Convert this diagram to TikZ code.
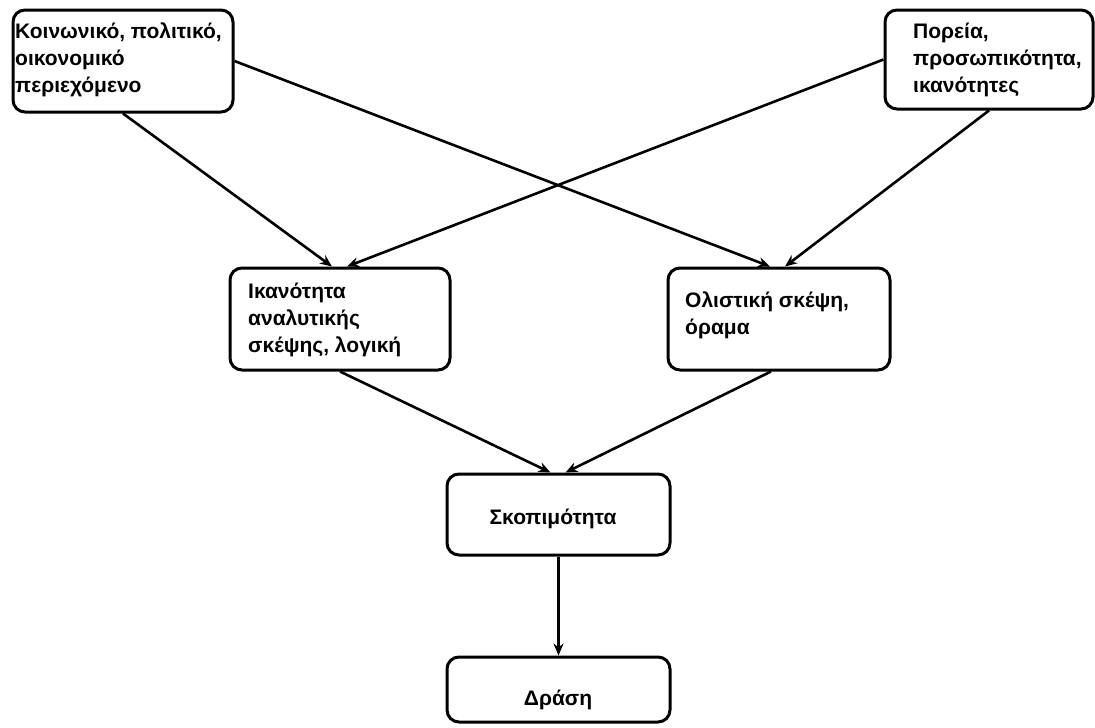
\documentclass[tikz,border=0pt]{standalone}
\usepackage{fontspec}
\setmainfont{Liberation Sans}
\usetikzlibrary{arrows.meta}
\begin{document}
\begin{tikzpicture}[x=1pt,y=-1pt,
  box/.style={draw, line width=3pt, rounded corners=12pt, inner sep=0pt},
  % multi-line labels: placed by the baseline of their last line
  txt/.style={anchor=base west, align=left, inner sep=0pt,
    font=\fontsize{21}{27}\selectfont\bfseries},
  ctxt/.style={anchor=base, inner sep=0pt,
    font=\fontsize{21}{27}\selectfont\bfseries},
  conn/.style={line width=2.6pt, -{Stealth[length=12pt,width=10pt]}}]
\useasboundingbox (0,0) rectangle (1095,728);

% boxes with their labels
\node[box, minimum width=220pt, minimum height=102pt] (b1) at (123,61) {};
\node[txt] (t1) at (15,92) {Κοινωνικό, πολιτικό,\\οικονομικό\\περιεχόμενο};

\node[box, minimum width=208pt, minimum height=99pt] (b2) at (989,59.5) {};
\node[txt] (t2) at (913,92) {Πορεία,\\προσωπικότητα,\\ικανότητες};

\node[box, minimum width=220pt, minimum height=102pt] (b3) at (340,319) {};
\node[txt] (t3) at (248,352) {Ικανότητα\\αναλυτικής\\σκέψης, λογική};

\node[box, minimum width=222pt, minimum height=102pt] (b4) at (779,319) {};
\node[txt] (t4) at (685,334) {Ολιστική σκέψη,\\όραμα};

\node[box, minimum width=223pt, minimum height=81pt] (b5) at (558.5,514.5) {};
\node[ctxt] (t5) at (553,524) {Σκοπιμότητα};

\node[box, minimum width=223pt, minimum height=65pt] (b6) at (558.5,689.5) {};
\node[ctxt] (t6) at (558,705) {Δράση};

% connectors
\draw[conn] (b1.south) -- ([xshift=-8pt]b3.north);
\draw[conn] (b2.west) -- ([xshift=7pt]b3.north);
\draw[conn] (b1.east) -- ([xshift=-9pt]b4.north);
\draw[conn] (b2.south) -- ([xshift=6pt]b4.north);
\draw[conn] (b3.south) -- ([xshift=-8pt]b5.north);
\draw[conn] ([xshift=-8pt]b4.south) -- ([xshift=7pt]b5.north);
\draw[conn] (b5.south) -- (b6.north);
\end{tikzpicture}
\end{document}
